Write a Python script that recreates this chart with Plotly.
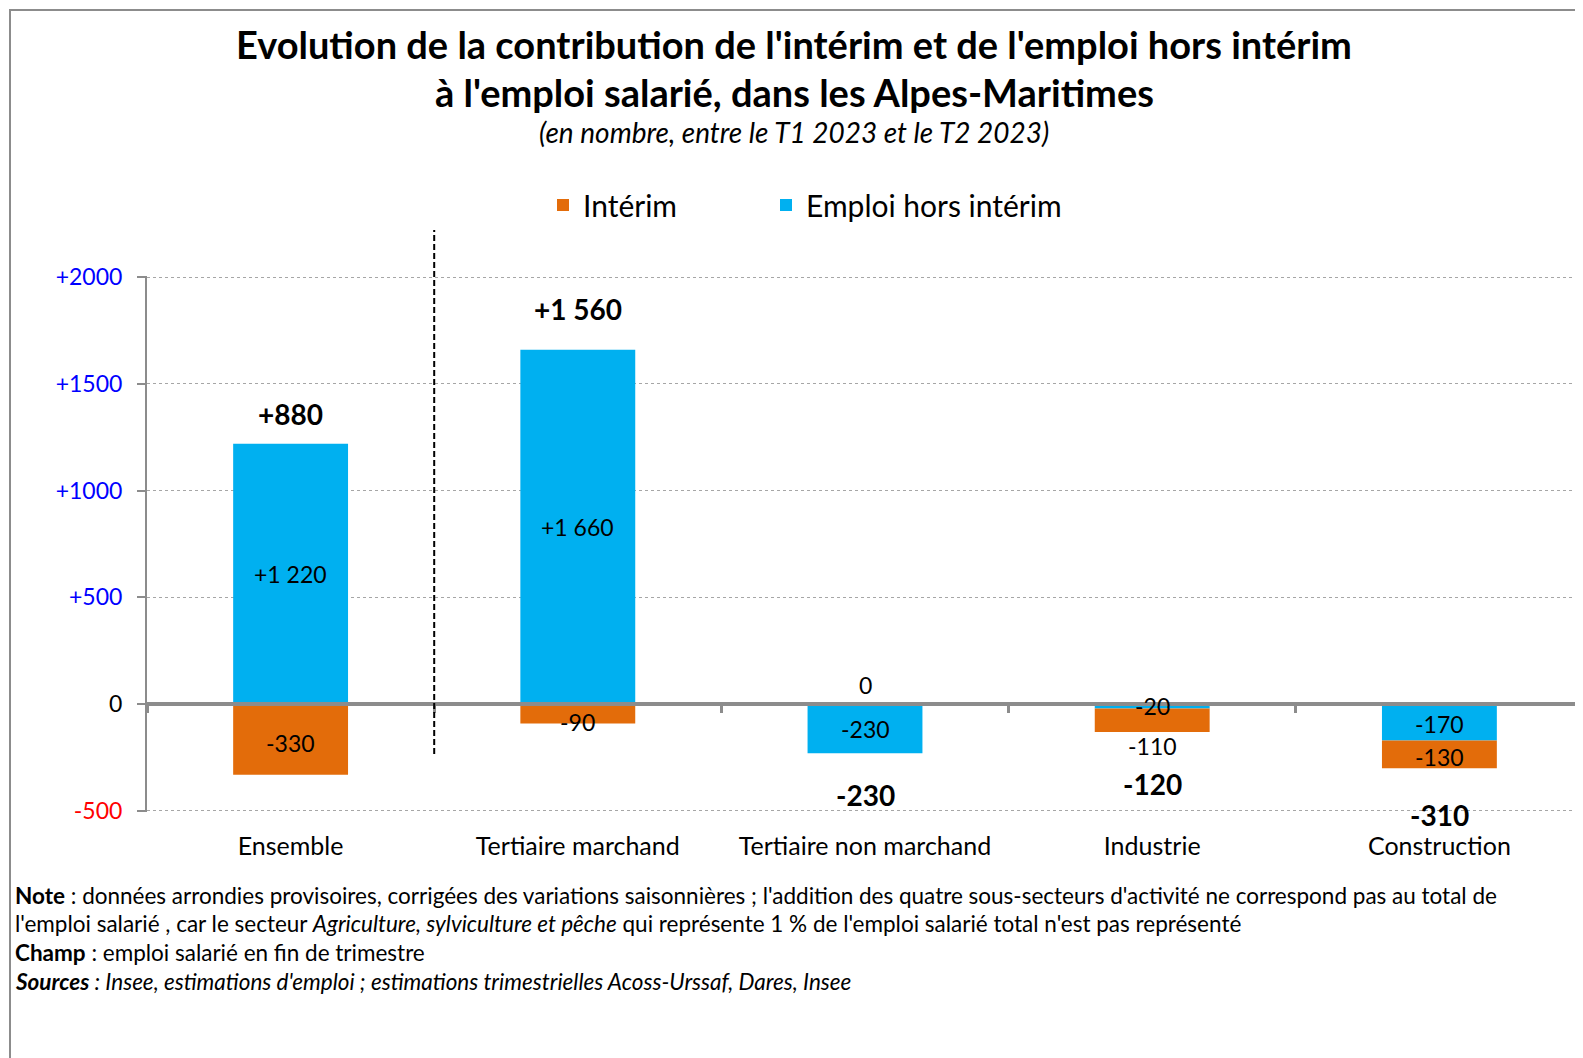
import plotly.graph_objects as go

categories = ["Ensemble", "Tertiaire marchand", "Tertiaire non marchand", "Industrie", "Construction"]
emploi_hors_interim = [1220, 1660, -230, -20, -170]
interim = [-330, -90, 0, -110, -130]
totaux = [880, 1560, -230, -120, -310]
emploi_labels = ["+1 220", "+1 660", "-230", "-20", "-170"]
interim_labels = ["-330", "-90", "0", "-110", "-130"]
total_labels = ["+880", "+1 560", "-230", "-120", "-310"]
y_tickvals = [-500, 0, 500, 1000, 1500, 2000]
y_ticktext = ["-500", "0", "+500", "+1000", "+1500", "+2000"]
y_tickcolors = ["#FF0000", "#000000", "#0000FF", "#0000FF", "#0000FF", "#0000FF"]

# styling offsets (pixels) for labels
emploi_yshift = [0, 0, 0, 0, -2]
interim_yshift = [-4, -8, 19, -26, -3]
total_yshift = [30, 41, -42, -52, -47]

FONT = "Lato"
OFF = 8  # page body margin
W, H = 1583 - OFF, 1058 - OFF
L, T = 147 - OFF, 276 - OFF
B = H - (812 - OFF)
R = 0
PW, PH = W - L - R, H - T - B
ORANGE = "#E36C0A"
BLUE = "#00B0F0"
GRAY = "#8C8C8C"
YMIN, YMAX = -505, 2005


def px(x):
    return (x - OFF - L) / PW


def py(y):
    return (H - B - (y - OFF)) / PH


fig = go.Figure()
fig.add_trace(go.Bar(name="Emploi hors intérim", x=categories, y=emploi_hors_interim,
                     marker=dict(color=BLUE, line=dict(width=0)), legend="legend2"))
fig.add_trace(go.Bar(name="Intérim", x=categories, y=interim,
                     marker=dict(color=ORANGE, line=dict(width=0)), legend="legend"))
# invisible trace on the zero-line axis
fig.add_trace(go.Scatter(x=categories, y=totaux, xaxis="x2", mode="markers",
                         marker=dict(opacity=0), showlegend=False, hoverinfo="skip"))

annotations = []
for i, c in enumerate(categories):
    e, it = emploi_hors_interim[i], interim[i]
    pos_base = 0
    neg_base = 0
    if e >= 0:
        ec = e / 2
        pos_base = e
    else:
        ec = e / 2
        neg_base = e
    if it >= 0:
        ic = pos_base + it / 2
        pos_top = pos_base + it
        neg_bot = neg_base
    else:
        ic = neg_base + it / 2
        pos_top = pos_base
        neg_bot = neg_base + it
    annotations.append(dict(x=c, y=ec, xref="x", yref="y", text=emploi_labels[i], showarrow=False,
                            yshift=emploi_yshift[i], font=dict(family=FONT, size=23, color="black")))
    annotations.append(dict(x=c, y=ic, xref="x", yref="y", text=interim_labels[i], showarrow=False,
                            yshift=interim_yshift[i], font=dict(family=FONT, size=23, color="black")))
    ty = pos_top if totaux[i] > 0 else neg_bot
    annotations.append(dict(x=c, y=ty, xref="x", yref="y", text="<b>" + total_labels[i] + "</b>",
                            showarrow=False, yshift=total_yshift[i],
                            font=dict(family=FONT, size=28, color="black")))

annotations += [
    dict(x=px(794), y=py(43.5), xref="paper", yref="paper", showarrow=False,
         xanchor="center", yanchor="middle",
         text="<b>Evolution de la contribution de l'intérim et de l'emploi hors intérim</b>",
         font=dict(family=FONT, size=38, color="black")),
    dict(x=px(794), y=py(92), xref="paper", yref="paper", showarrow=False,
         xanchor="center", yanchor="middle",
         text="<b>à l'emploi salarié, dans les Alpes-Maritimes</b>",
         font=dict(family=FONT, size=38, color="black")),
    dict(x=px(794), y=py(132.5), xref="paper", yref="paper", showarrow=False,
         xanchor="center", yanchor="middle",
         text="<i>(en nombre, entre le T1 2023 et le T2 2023)</i>",
         font=dict(family=FONT, size=28, color="black")),
]

notes = [
    "<b>Note</b> : données arrondies provisoires, corrigées des variations saisonnières ; l'addition des quatre sous-secteurs d'activité ne correspond pas au total de",
    "l'emploi salarié , car le secteur <i>Agriculture, sylviculture et pêche</i> qui représente 1 % de l'emploi salarié total n'est pas représenté",
    "<b>Champ</b> : emploi salarié en fin de trimestre",
    "<b><i>Sources</i></b><i> : Insee, estimations d'emploi ; estimations trimestrielles Acoss-Urssaf, Dares, Insee</i>",
]
note_y = [895, 923.5, 952.5, 981]
for t, yy in zip(notes, note_y):
    annotations.append(dict(x=px(13), y=py(yy), xref="paper", yref="paper", xanchor="left",
                            yanchor="middle", showarrow=False, align="left", text=t,
                            font=dict(family=FONT, size=22.5, color="black")))

shapes = [
    dict(type="rect", xref="paper", yref="paper", x0=px(10), x1=px(1640), y0=py(1100), y1=py(10),
         line=dict(color=GRAY, width=2), fillcolor="rgba(0,0,0,0)", layer="below"),
    dict(type="line", xref="x", yref="paper", x0=0.5, x1=0.5, y0=py(754), y1=py(230),
         line=dict(color="black", width=2, dash="6px,3px")),
]

legend_style = dict(orientation="h", yanchor="middle", xanchor="left", itemwidth=30,
                    font=dict(family=FONT, size=30, color="black"), bgcolor="rgba(0,0,0,0)")

fig.update_layout(
    width=W, height=H,
    margin=dict(l=L, r=R, t=T, b=B, autoexpand=False),
    paper_bgcolor="white", plot_bgcolor="white",
    barmode="relative", bargap=0.6,
    font=dict(family=FONT, color="black"),
    showlegend=True,
    legend=dict(x=px(543), y=py(205), **legend_style),
    legend2=dict(x=px(766), y=py(205), **legend_style),
    xaxis=dict(type="category", categoryarray=categories, showline=False, ticks="",
               showgrid=False, zeroline=False, tickfont=dict(family=FONT, size=25, color="black"),
               ticklabelstandoff=17, range=[-0.5, 4.5]),
    xaxis2=dict(type="category", categoryarray=categories, overlaying="x", anchor="free",
                position=(0 - YMIN) / (YMAX - YMIN), side="bottom", showline=True, linecolor=GRAY,
                linewidth=4, ticks="outside", tickson="boundaries", ticklen=7, tickwidth=3,
                tickcolor=GRAY, showticklabels=False, showgrid=False, zeroline=False,
                range=[-0.5, 4.5]),
    yaxis=dict(range=[YMIN, YMAX], tickvals=y_tickvals,
               ticktext=[f'<span style="color:{c}">{t}</span>' for t, c in zip(y_ticktext, y_tickcolors)],
               showline=True, linecolor=GRAY, linewidth=2, ticks="outside", ticklen=8,
               tickcolor=GRAY, tickwidth=2, showgrid=True, gridcolor="#A6A6A6", griddash="dot",
               gridwidth=1, zeroline=False, tickfont=dict(family=FONT, size=23),
               ticklabelstandoff=10),
    annotations=annotations,
    shapes=shapes,
)

fig.write_html("out.html")
